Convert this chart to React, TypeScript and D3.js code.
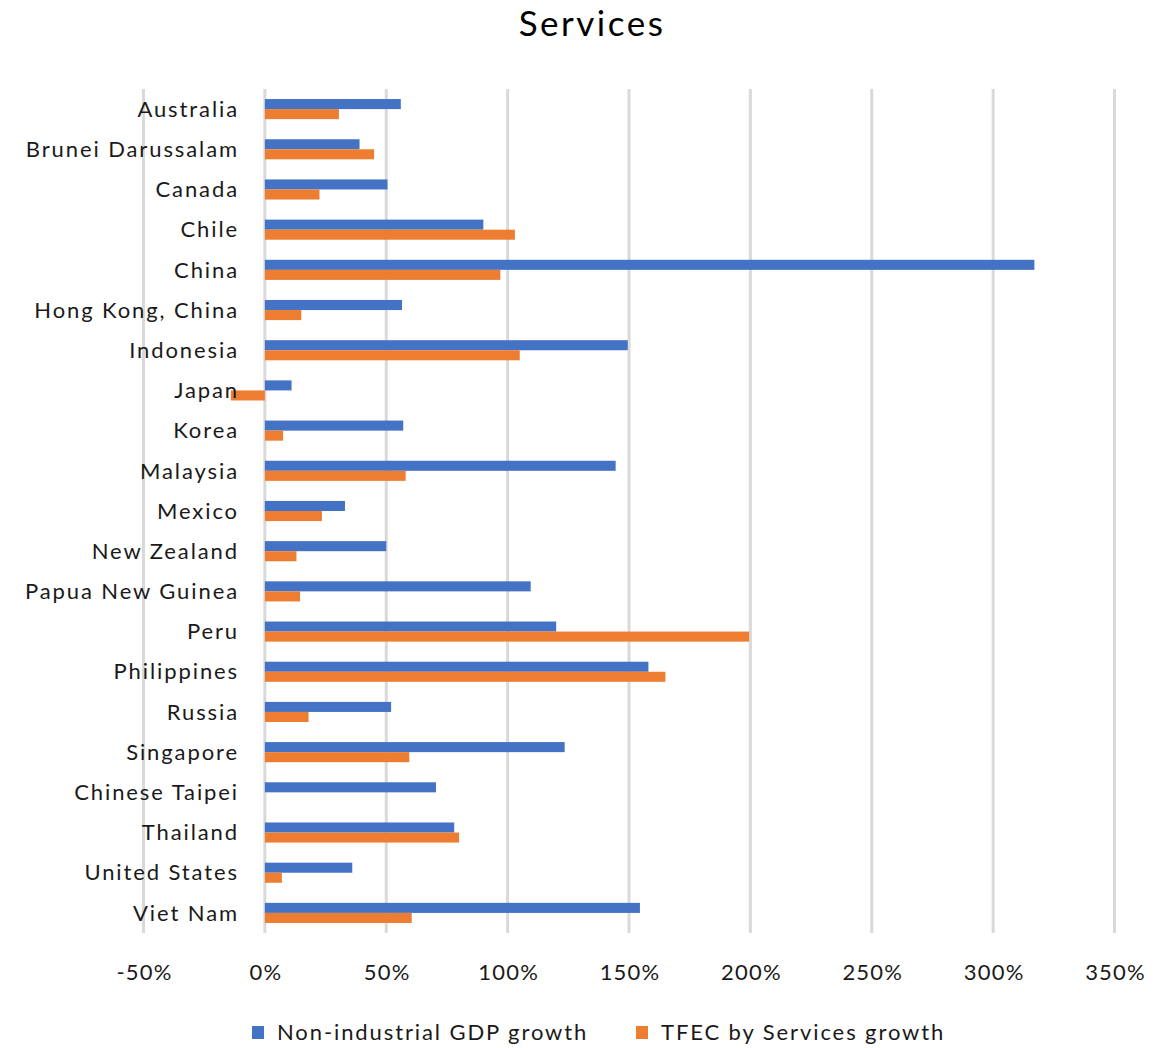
import { useEffect, useRef } from 'react';
import * as d3 from 'd3';

const countries = [
  'Australia', 'Brunei Darussalam', 'Canada', 'Chile', 'China', 'Hong Kong, China',
  'Indonesia', 'Japan', 'Korea', 'Malaysia', 'Mexico', 'New Zealand',
  'Papua New Guinea', 'Peru', 'Philippines', 'Russia', 'Singapore',
  'Chinese Taipei', 'Thailand', 'United States', 'Viet Nam',
];

// growth, in percent
const gdpGrowth = [56, 39, 50.5, 90, 317, 56.5, 149.5, 11, 57, 144.5, 33, 50,
  109.5, 120, 158, 52, 123.5, 70.5, 78, 36, 154.5];
const tfecGrowth = [30.5, 45, 22.5, 103, 97, 15, 105, -14, 7.5, 58, 23.5, 13,
  14.5, 199.5, 165, 18, 59.5, 0, 80, 7, 60.5];

const seriesNames = ['Non-industrial GDP growth', 'TFEC by Services growth'];
const seriesColors = ['#4472C4', '#ED7D31'];
const xTicks = [-50, 0, 50, 100, 150, 200, 250, 300, 350];

const FONT = 'Lato, "Open Sans", "Noto Sans", sans-serif';

export default function App() {
  const svgRef = useRef<SVGSVGElement>(null);

  useEffect(() => {
    if (!svgRef.current) return;
    const W = 1174;
    const H = 1048;
    const left = 143.5;
    const right = 1114.5;
    const top = 89;
    const bottom = 933;

    const svg = d3.select(svgRef.current);
    svg.selectAll('*').remove();
    svg.attr('width', W).attr('height', H);

    const x = d3.scaleLinear().domain([-50, 350]).range([left, right]);
    const y = d3
      .scaleBand()
      .domain(countries)
      .range([top, bottom])
      .paddingInner(0.5)
      .paddingOuter(0.25);
    const sub = d3.scaleBand().domain(['0', '1']).range([0, y.bandwidth()]);

    svg
      .append('text')
      .attr('x', 592)
      .attr('y', 36)
      .attr('text-anchor', 'middle')
      .attr('font-family', FONT)
      .attr('font-size', 35)
      .attr('letter-spacing', 2.5)
      .attr('fill', '#000')
      .text('Services');

    // gridlines
    svg
      .append('g')
      .selectAll('line')
      .data(xTicks)
      .enter()
      .append('line')
      .attr('x1', (d) => x(d))
      .attr('x2', (d) => x(d))
      .attr('y1', top)
      .attr('y2', bottom)
      .attr('stroke', '#d9d9d9')
      .attr('stroke-width', 3);

    const rows = countries.map((c, i) => ({ c, vals: [gdpGrowth[i], tfecGrowth[i]] }));

    const g = svg.append('g');
    rows.forEach((r) => {
      r.vals.forEach((v, j) => {
        if (!v) return;
        g.append('rect')
          .attr('x', x(Math.min(0, v)))
          .attr('width', Math.abs(x(v) - x(0)))
          .attr('y', y(r.c)! + sub(String(j))!)
          .attr('height', sub.bandwidth())
          .attr('fill', seriesColors[j]);
      });
    });

    // category labels
    svg
      .append('g')
      .selectAll('text')
      .data(countries)
      .enter()
      .append('text')
      .attr('x', 239)
      .attr('y', (d) => y(d)! + y.bandwidth() / 2)
      .attr('dy', '0.35em')
      .attr('text-anchor', 'end')
      .attr('font-family', FONT)
      .attr('font-size', 22)
      .attr('letter-spacing', 1.9)
      .attr('fill', '#1a1a1a')
      .text((d) => d);

    // x tick labels
    svg
      .append('g')
      .selectAll('text')
      .data(xTicks)
      .enter()
      .append('text')
      .attr('x', (d) => x(d) + 1)
      .attr('y', 980)
      .attr('text-anchor', 'middle')
      .attr('font-family', FONT)
      .attr('font-size', 22)
      .attr('letter-spacing', 1.2)
      .attr('fill', '#1a1a1a')
      .text((d) => `${d}%`);

    // legend
    const legendX = [252, 636];
    seriesNames.forEach((name, i) => {
      svg
        .append('rect')
        .attr('x', legendX[i])
        .attr('y', 1026)
        .attr('width', 12)
        .attr('height', 13)
        .attr('fill', seriesColors[i]);
      svg
        .append('text')
        .attr('x', legendX[i] + 25)
        .attr('y', 1040)
        .attr('font-family', FONT)
        .attr('font-size', 22)
        .attr('letter-spacing', 1.9)
        .attr('fill', '#1a1a1a')
        .text(name);
    });
  }, []);

  return (
    <svg
      ref={svgRef}
      style={{ position: 'absolute', left: 0, top: 0, background: '#fff' }}
      role="img"
      aria-label="Services growth chart"
    />
  );
}
